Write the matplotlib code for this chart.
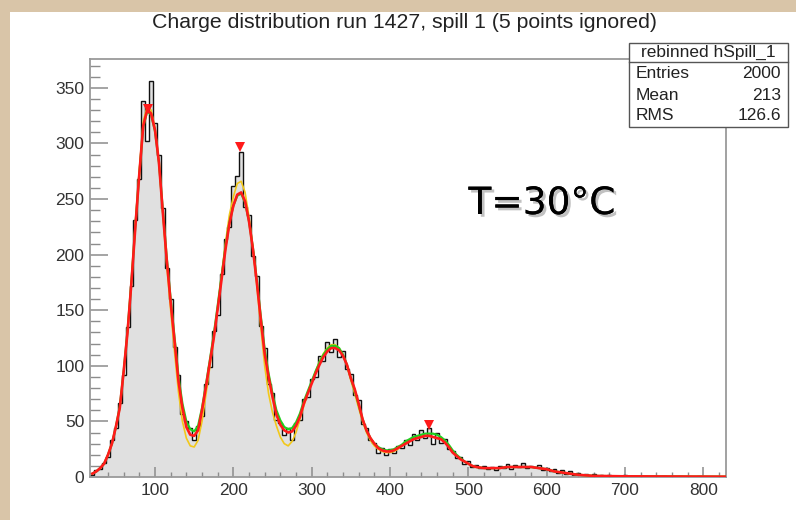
import matplotlib
matplotlib.use("Agg")
import matplotlib.pyplot as plt
import matplotlib.patheffects as pe
from matplotlib.patches import Rectangle
import numpy as np

plt.rcParams['font.family'] = ['Liberation Sans', 'DejaVu Sans']

# ---------------- data ----------------
bin_width = 5
bin_centers = list(range(20, 830, 5))

counts = [2, 6, 7, 13, 18, 33, 44, 67, 92, 135, 172, 231, 268, 338, 302, 356, 318, 290, 242, 188,
          160, 117, 92, 57, 50, 44, 33, 46, 55, 84, 99, 131, 146, 183, 214, 225, 262, 271, 292, 243,
          236, 199, 181, 136, 116, 84, 76, 51, 49, 38, 44, 33, 49, 51, 70, 72, 88, 90, 109, 104,
          121, 112, 124, 108, 113, 97, 93, 74, 69, 48, 44, 33, 31, 22, 26, 20, 25, 22, 28, 26,
          33, 29, 39, 33, 42, 35, 44, 30, 40, 31, 34, 25, 23, 17, 18, 12, 14, 9, 11, 8,
          10, 7, 9, 6, 10, 8, 12, 7, 11, 9, 13, 8, 10, 9, 11, 6, 8, 5, 7, 4,
          6, 3, 5, 2, 4, 2, 3, 1, 3, 1, 2, 1, 2, 1, 1, 0, 2, 0, 1, 0,
          1, 0, 0, 1, 0, 0, 1, 0, 0, 0, 1, 0, 0, 0, 0, 1, 0, 0, 0, 0,
          0, 0]

fit_x = [20, 25, 30, 35, 40, 45, 50, 55, 60, 65, 70, 75, 80, 85, 90, 95, 100, 105, 110, 115,
         120, 125, 130, 135, 140, 145, 150, 155, 160, 165, 170, 175, 180, 185, 190, 195, 200, 205, 210, 215,
         220, 225, 230, 235, 240, 245, 250, 255, 260, 265, 270, 275, 280, 285, 290, 295, 300, 305, 310, 315,
         320, 325, 330, 335, 340, 345, 350, 355, 360, 365, 370, 375, 380, 385, 390, 395, 400, 405, 410, 415,
         420, 425, 430, 435, 440, 445, 450, 455, 460, 465, 470, 475, 480, 485, 490, 495, 500, 505, 510, 520,
         530, 540, 550, 560, 570, 580, 590, 600, 610, 620, 630, 640, 650, 660, 680, 700, 740, 780, 829]

fit_red = [3, 5, 8, 12, 20, 30, 45, 62, 95, 131, 176, 226, 273, 316, 330, 327, 312, 283, 238, 195,
           157, 122, 86, 62, 45, 38, 37, 42, 60, 81, 103, 125, 151, 178, 205, 228, 244, 254, 256, 248,
           230, 205, 175, 142, 111, 90, 72, 56, 47, 42, 40, 41, 46, 54, 66, 75, 84, 93, 101, 108,
           113, 116, 116, 114, 109, 101, 89, 79, 66, 52, 42, 35, 30, 26, 24, 23, 23, 24, 26, 28,
           30, 32, 34, 35, 36, 37, 37, 36, 35, 34, 31, 27, 22, 19, 16, 14, 12, 10, 9, 8,
           8, 8, 9, 9, 9, 9, 8, 7, 5, 4, 3, 2, 1.5, 1, 0.8, 0.6, 0.5, 0.4, 0.3]

fit_green = [3, 5, 8, 12, 20, 30, 45, 63, 95, 132, 177, 227, 273, 315, 329, 326, 311, 283, 240, 197,
             160, 125, 90, 66, 50, 43, 41, 46, 62, 83, 105, 128, 154, 181, 207, 229, 244, 253, 255, 247,
             230, 206, 177, 145, 115, 93, 75, 60, 51, 45, 43, 44, 49, 57, 68, 77, 86, 95, 103, 110,
             115, 118, 118, 116, 110, 101, 89, 78, 65, 52, 42, 35, 30, 27, 25, 24, 24, 25, 27, 29,
             32, 34, 36, 37, 38, 39, 39, 39, 38, 36, 33, 29, 24, 20, 17, 14, 12, 10, 9, 8,
             8, 8, 9, 9, 9, 9, 8, 7, 5, 4, 3, 2, 1.5, 1, 0.8, 0.6, 0.5, 0.4, 0.3]

fit_yellow = [3, 5, 8, 12, 20, 30, 45, 62, 95, 132, 178, 229, 276, 320, 333, 330, 314, 283, 236, 190,
              150, 112, 76, 50, 35, 28, 27, 33, 50, 74, 99, 124, 152, 182, 211, 236, 252, 264, 266, 256,
              234, 206, 172, 135, 100, 75, 58, 46, 36, 30, 28, 32, 40, 52, 64, 75, 85, 95, 104, 111,
              116, 119, 119, 116, 110, 100, 87, 75, 62, 50, 40, 33, 28, 25, 23, 22, 22, 23, 25, 28,
              30, 32, 34, 35, 36, 37, 37, 36, 35, 34, 31, 27, 22, 19, 16, 14, 12, 10, 9, 8,
              8, 8, 9, 9, 9, 9, 8, 7, 5, 4, 3, 2, 1.5, 1, 0.8, 0.6, 0.5, 0.4, 0.3]

peak_x = [91, 208, 450]
peak_y = [331, 297, 47]

title = "Charge distribution run 1427, spill 1 (5 points ignored)"
stats_name = "rebinned hSpill_1"
stats_labels = ["Entries", "Mean", "RMS"]
stats_values = ["2000", "213", "126.6"]
annotation = "T=30°C"

x_ticks = [100, 200, 300, 400, 500, 600, 700, 800]
y_ticks = [0, 50, 100, 150, 200, 250, 300, 350]

# ---------------- figure ----------------
W, H = 796, 520
fig = plt.figure(figsize=(W / 100, H / 100), dpi=100)
fig.patch.set_facecolor('#d9c5a8')

def fx(px):
    return px / W

def fy(py):
    return 1 - py / H

# white canvas
fig.add_artist(Rectangle((fx(10), 0), fx(796) - fx(10), fy(12), transform=fig.transFigure,
                         facecolor='white', edgecolor='none', zorder=0))

ax = fig.add_axes([fx(90), fy(477), fx(726) - fx(90), fy(59) - fy(477)])
ax.set_facecolor('white')

edges = [c - bin_width / 2 for c in bin_centers] + [bin_centers[-1] + bin_width / 2]
ax.stairs(counts, edges, fill=True, color='#e0e0e0', zorder=1)
ax.stairs(counts, edges, color='#111111', lw=1.0, zorder=2)

ax.plot(fit_x, fit_yellow, color='#f2c81a', lw=1.2, zorder=3)
ax.plot(fit_x, fit_green, color='#1fd11f', lw=1.6, zorder=4)
ax.plot(fit_x, fit_red, color='#ff1a1a', lw=1.9, zorder=5)
ax.plot(peak_x, peak_y, 'v', color='#ff1a1a', ms=7, zorder=6, markeredgewidth=0)

ax.set_xlim(17, 829)
ax.set_ylim(0, 376)

ax.set_xticks(x_ticks)
ax.set_yticks(y_ticks)
ax.set_xticks(np.arange(20, 829, 20), minor=True)
ax.set_yticks(np.arange(0, 376, 10), minor=True)

ax.tick_params(axis='y', which='major', direction='in', length=13, width=1.1, color='#8c8c8c',
               labelsize=12.5, labelcolor='#333333', pad=4)
ax.tick_params(axis='y', which='minor', direction='in', length=7, width=1.0, color='#8c8c8c')
ax.tick_params(axis='x', which='major', direction='in', length=7, width=1.1, color='#8c8c8c',
               labelsize=12.5, labelcolor='#333333', pad=4)
ax.tick_params(axis='x', which='minor', direction='in', length=3.5, width=1.0, color='#8c8c8c')

for s in ax.spines.values():
    s.set_color('#9a9a9a')
    s.set_linewidth(1.3)

fig.text(fx(405), fy(23), title, ha='center', va='center', fontsize=15.3, color='#222222')

# stats box
bx0, by0, bx1, by1 = 629, 43, 788, 127
fig.add_artist(Rectangle((fx(bx0), fy(by1)), fx(bx1) - fx(bx0), fy(by0) - fy(by1),
                         transform=fig.transFigure, facecolor='white', edgecolor='#555555',
                         lw=1.0, zorder=10))
fig.add_artist(plt.Line2D([fx(bx0), fx(bx1)], [fy(62), fy(62)], transform=fig.transFigure,
                          color='#555555', lw=1.0, zorder=11))
fig.text(fx((bx0 + bx1) / 2), fy(52.5), stats_name, ha='center', va='center', fontsize=12.5,
         color='#222222', zorder=12)
row_y = [74, 95, 116]
for lab, val, ry in zip(stats_labels, stats_values, row_y):
    fig.text(fx(636), fy(ry), lab, ha='left', va='center', fontsize=12.5, color='#222222', zorder=12)
    fig.text(fx(781), fy(ry), val, ha='right', va='center', fontsize=12.5, color='#222222', zorder=12)

fig.text(fx(542), fy(204), annotation, ha='center', va='center', fontsize=27, color='black',
         family=['DejaVu Sans'],
         path_effects=[pe.withSimplePatchShadow(offset=(2, -2), shadow_rgbFace='#999999', alpha=0.6),
                       pe.Normal()])

fig.savefig('out.png', dpi=100, facecolor=fig.get_facecolor())
